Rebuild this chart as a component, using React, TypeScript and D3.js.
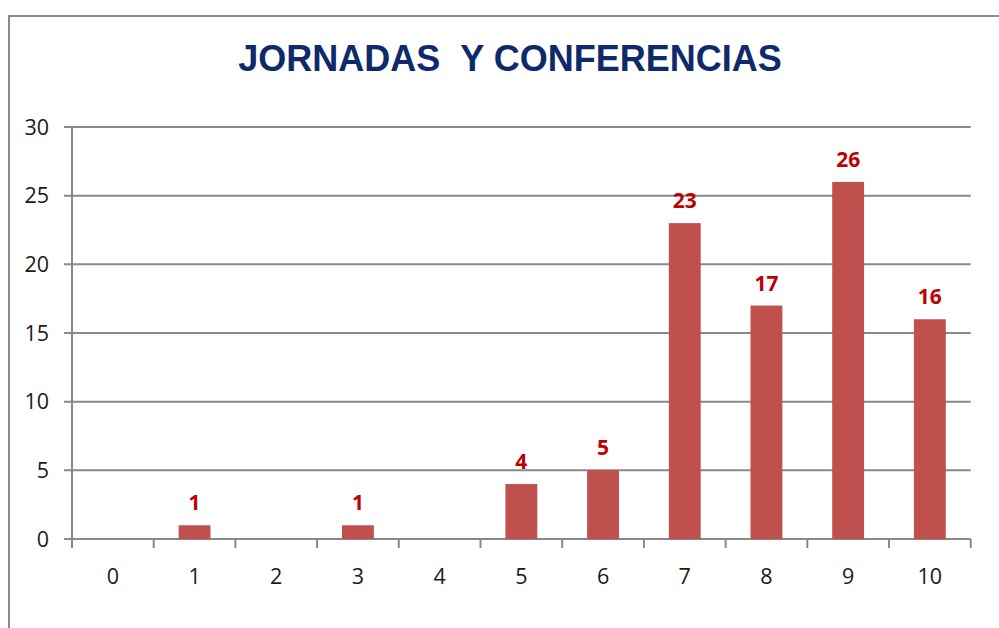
import React from "react";
import * as d3 from "d3";

const categories = ["0", "1", "2", "3", "4", "5", "6", "7", "8", "9", "10"];
const values = [0, 1, 0, 1, 0, 4, 5, 23, 17, 26, 16];
const yTicks = [0, 5, 10, 15, 20, 25, 30];
const title = "JORNADAS\u00A0\u00A0Y CONFERENCIAS";

export default function App() {
  const W = 999, H = 628;
  const left = 72, right = 970.7, top = 127, bottom = 539;
  const x = d3.scaleBand<string>().domain(categories).range([left, right]).padding(0);
  const y = d3.scaleLinear().domain([0, 30]).range([bottom, top]);
  const bw = x.bandwidth() * 0.39;
  const grid = "#898989";
  const tickFont = "'Open Sans', 'Noto Sans', sans-serif";
  const boundaries = d3.range(categories.length + 1).map((i) => left + i * x.step());

  return (
    <svg width={W} height={H} style={{ position: "absolute", left: 0, top: 0, background: "#fff" }}>
      <rect x={0} y={0} width={W} height={H} fill="#fff" />
      <path d={`M9,${H + 5} L9,16 L${W + 5},16`} fill="none" stroke="#8a8a8a" strokeWidth={2} />
      <text x={510} y={71} textAnchor="middle" fontFamily="'Liberation Sans', Arial, sans-serif"
        fontWeight="bold" fontSize={36} fill="#0e2a6a">{title}</text>
      {yTicks.map((t) => (
        <line key={"g" + t} x1={left - 8} x2={right} y1={y(t)} y2={y(t)} stroke={grid} strokeWidth={2} />
      ))}
      <line x1={left} x2={left} y1={top} y2={bottom + 9} stroke={grid} strokeWidth={2} />
      {boundaries.map((b, i) => (
        <line key={"t" + i} x1={b} x2={b} y1={bottom} y2={bottom + 9} stroke={grid} strokeWidth={2} />
      ))}
      {yTicks.map((t) => (
        <text key={"yl" + t} x={49} y={y(t)} dy="0.35em" textAnchor="end" fontFamily={tickFont}
          fontSize={21.5} fill="#1a1a1a">{t}</text>
      ))}
      {categories.map((c) => (
        <text key={"xl" + c} x={(x(c) as number) + x.bandwidth() / 2} y={584} textAnchor="middle"
          fontFamily={tickFont} fontSize={21.5} fill="#1a1a1a">{c}</text>
      ))}
      {categories.map((c, i) =>
        values[i] > 0 ? (
          <rect key={"b" + c} x={(x(c) as number) + (x.bandwidth() - bw) / 2} y={y(values[i])}
            width={bw} height={bottom - y(values[i])} fill="#c0504d" />
        ) : null
      )}
      {categories.map((c, i) =>
        values[i] > 0 ? (
          <text key={"l" + c} x={(x(c) as number) + x.bandwidth() / 2} y={y(values[i]) - 15}
            textAnchor="middle" fontFamily={tickFont} fontWeight="bold" fontSize={21} fill="#c00000">
            {values[i]}
          </text>
        ) : null
      )}
    </svg>
  );
}
